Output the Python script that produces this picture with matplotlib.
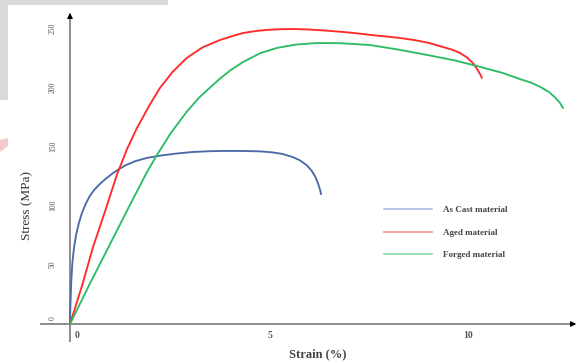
import matplotlib
matplotlib.use("Agg")
import matplotlib.pyplot as plt
from matplotlib.lines import Line2D
from matplotlib.patches import Rectangle, Polygon
import matplotlib.transforms as mtransforms

# ---------------- data ----------------
cast_strain = [0, 0.01, 0.03, 0.06, 0.1, 0.15, 0.22, 0.3, 0.4, 0.5, 0.62, 0.75, 0.9,
               1.05, 1.2, 1.4, 1.65, 1.95, 2.3, 2.7, 3.11, 3.5, 3.9, 4.4, 4.8, 5.1,
               5.35, 5.6, 5.8, 5.98, 6.1, 6.2, 6.27, 6.32, 6.34]
cast_stress = [0, 15, 35, 52, 64, 75, 85, 94, 102, 108.5, 114, 118.5, 123,
               127, 130.5, 134.5, 138, 140.8, 142.8, 144.5, 145.8, 146.4, 146.7, 146.6, 146.3, 145.5,
               144.2, 141.8, 138.8, 134.5, 130, 124.5, 118.5, 113, 110]

aged_strain = [0, 0.3, 0.58, 0.9, 1.19, 1.45, 1.69, 2.0, 2.27, 2.6, 2.95, 3.35, 3.79,
               4.1, 4.37, 4.7, 5.0, 5.3, 5.63, 6.0, 6.4, 6.89, 7.2, 7.58, 8.0, 8.33,
               8.7, 9.05, 9.42, 9.65, 9.85, 10.02, 10.18, 10.3, 10.36, 10.4]
aged_stress = [0, 32, 65, 97, 127, 149, 166, 185, 200, 214, 225.5, 234.5, 240.7,
               244, 246.6, 248.3, 249.3, 249.8, 250, 249.6, 248.8, 247.5, 246.5, 245, 243.6, 242.4,
               240.6, 238.3, 234.7, 232.5, 229.7, 226, 221, 215, 211.5, 208.5]

forged_strain = [0, 0.5, 1.0, 1.5, 1.94, 2.2, 2.55, 2.95, 3.25, 3.54, 3.79, 4.05, 4.37,
                 4.8, 5.23, 5.7, 6.24, 6.8, 7.58, 8.3, 9.02, 9.7, 10.28, 10.93, 11.36,
                 11.65, 11.9, 12.1, 12.25, 12.37, 12.45]
forged_stress = [0, 34, 67, 100, 128.5, 143.5, 162, 180, 191.5, 200.5, 208, 215, 222,
                 229.5, 234, 236.8, 238.1, 238, 236.4, 232.5, 228, 223.5, 218.6, 212.7, 207.6,
                 204.5, 200.5, 196.5, 192, 187.5, 183]

series_names = ["As Cast material", "Aged material", "Forged material"]
x_ticks = [0, 5, 10]
y_ticks = [0, 50, 100, 150, 200, 250]
x_label = "Strain (%)"
y_label = "Stress (MPa)"

# ---------------- layout ----------------
W, H = 579, 363
fig = plt.figure(figsize=(W / 100, H / 100), dpi=100)
fig.patch.set_facecolor("white")

# background decoration (page watermark)
fig.patches.append(Rectangle((0, 1 - 5 / H), 168 / W, 5 / H, transform=fig.transFigure,
                             facecolor="#d9d9d9", edgecolor="none", zorder=0))
fig.patches.append(Rectangle((0, 1 - 100 / H), 8 / W, 100 / H, transform=fig.transFigure,
                             facecolor="#d9d9d9", edgecolor="none", zorder=0))
fig.patches.append(Polygon([(0, 1 - 140 / H), (8 / W, 1 - 138 / H), (8 / W, 1 - 146 / H), (0, 1 - 152 / H)],
                           closed=True, transform=fig.transFigure,
                           facecolor="#f7c9cf", edgecolor="none", zorder=0))

ax = fig.add_axes([0, 0, 1, 1])
ax.set_facecolor("none")
ax.axis("off")

x0_px, xs = 70, 39.6     # pixel of strain 0, pixels per strain unit
y0_px, ys = 324, 1.18    # pixel of stress 0, pixels per MPa
ax.set_xlim(-x0_px / xs, (W - x0_px) / xs)
ax.set_ylim(-(H - y0_px) / ys, y0_px / ys)

def px2data_x(px):
    return (px - x0_px) / xs

def px2data_y(py):
    return (y0_px - py) / ys

axis_col = "#8c8c8c"
# x axis
ax.plot([px2data_x(40), px2data_x(572)], [0, 0], color=axis_col, lw=1.4, zorder=1,
        solid_capstyle="butt")
ax.annotate("", xy=(px2data_x(579), 0), xytext=(px2data_x(570), 0),
            arrowprops=dict(arrowstyle="-|>", color="black", lw=0.8, mutation_scale=8))
# y axis
ax.plot([0, 0], [px2data_y(342), px2data_y(18)], color=axis_col, lw=1.4, zorder=1,
        solid_capstyle="butt")
ax.annotate("", xy=(0, px2data_y(10)), xytext=(0, px2data_y(20)),
            arrowprops=dict(arrowstyle="-|>", color="black", lw=0.8, mutation_scale=8))

# curves
kw = dict(lw=1.35, zorder=3, solid_joinstyle="round", solid_capstyle="round")
ax.plot(cast_strain, cast_stress, color="#4a6aa8", **kw)
ax.plot(aged_strain, aged_stress, color="#ff2a2a", **kw)
ax.plot(forged_strain, forged_stress, color="#2dbb66", **kw)

serif = "Liberation Serif"
# x tick labels
for xv in x_ticks:
    off = mtransforms.offset_copy(ax.transData, fig=fig, x=7 if xv == 0 else 2, y=-7, units="dots")
    ax.text(xv, 0, str(xv), transform=off, ha="center", va="top",
            fontsize=7, fontweight="bold", family=serif, color="#555555")
# y tick labels
for yv in y_ticks:
    off = mtransforms.offset_copy(ax.transData, fig=fig, x=-17, y=6 if yv == 0 else 1, units="dots")
    ax.text(0, yv, str(yv), transform=off, ha="center", va="center", rotation=90,
            fontsize=5.5, family=serif, color="#555555")

ax.text(px2data_x(318), px2data_y(354), x_label, ha="center", va="center",
        fontsize=9, fontweight="bold", family=serif, color="#444444")
ax.text(px2data_x(27), px2data_y(205), y_label, ha="center", va="center", rotation=90,
        fontsize=9.5, family=serif, color="#333333")

# legend
handles = [Line2D([], [], color=c, lw=1.2) for c in ["#a9bce8", "#ff8f8f", "#8fd9ac"]]
leg = ax.legend(handles, series_names, loc="upper left",
                bbox_to_anchor=(376 / W, 1 - 198 / H), bbox_transform=fig.transFigure,
                frameon=False, handlelength=5.3, handletextpad=1.2, labelspacing=1.55,
                prop={"family": serif, "size": 6.5, "weight": "bold"})
for t in leg.get_texts():
    t.set_color("#444444")

fig.savefig("out.png", dpi=100, facecolor="white")
